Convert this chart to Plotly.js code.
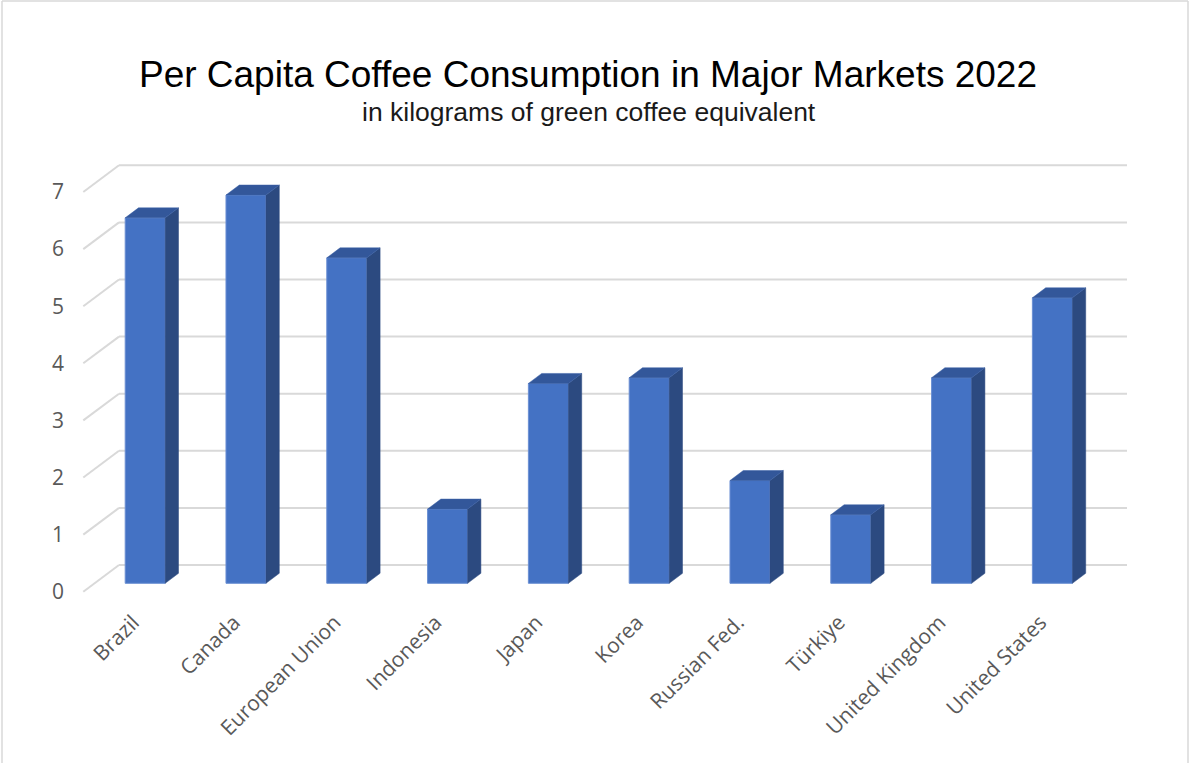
<!DOCTYPE html>
<html>
<head>
<meta charset="utf-8">
<script src="https://cdn.plot.ly/plotly-3.0.1.min.js"></script>
<style>html,body{margin:0;padding:0;background:#fff;}#chart{width:1190px;height:763px;}</style>
</head>
<body>
<div id="chart"></div>
<script>
// ---- data ----
const categories = ['Brazil', 'Canada', 'European Union', 'Indonesia', 'Japan', 'Korea', 'Russian Fed.', 'Türkiye', 'United Kingdom', 'United States'];
const consumption = [6.4, 6.8, 5.7, 1.3, 3.5, 3.6, 1.8, 1.2, 3.6, 5.0];
const yTicks = [0, 1, 2, 3, 4, 5, 6, 7];
const titleText = 'Per Capita Coffee Consumption in Major Markets 2022';
const subtitleText = 'in kilograms of green coffee equivalent';

// ---- geometry (pixels) ----
const W = 1190, H = 763;
const PL = 119, PR = 1127, PT = 150, PB = 600;   // plot area
const PX_PER_CAT = 100.8, FIRST_CAT_PX = 145.2;
const PX_PER_UNIT = 57.1, BASE_PX = 583.3;
const DEPTH_DX_PX = 13.3, DEPTH_DY_PX = 10;      // bar depth (oblique)
const WALL_PX = 565, FLOOR_FRONT_PX = 591.7, FLOOR_FRONT_X = 83.3;
const BAR_W = 0.397;

const plotW = PR - PL, plotH = PB - PT;
const xMin = -(FIRST_CAT_PX - PL) / PX_PER_CAT;
const xMax = xMin + plotW / PX_PER_CAT;
const yMin = -(PB - BASE_PX) / PX_PER_UNIT;
const yMax = yMin + plotH / PX_PER_UNIT;
const DX = DEPTH_DX_PX / PX_PER_CAT;
const DY = DEPTH_DY_PX / PX_PER_UNIT;
const wallOff = (BASE_PX - WALL_PX) / PX_PER_UNIT;
const frontOff = (FLOOR_FRONT_PX - BASE_PX) / PX_PER_UNIT;
const px2paperX = p => (p - PL) / plotW;
const px2paperY = p => (PB - p) / plotH;

const idx = categories.map((c, i) => i);

// side and top faces derived from the data values
const sideX = [], sideY = [], topX = [], topY = [];
idx.forEach(i => {
  const v = consumption[i];
  const xl = i - BAR_W / 2, xr = i + BAR_W / 2;
  sideX.push(xr, xr + DX, xr + DX, xr, xr, null);
  sideY.push(0, DY, v + DY, v, 0, null);
  topX.push(xl, xl + DX, xr + DX, xr, xl, null);
  topY.push(v, v + DY, v + DY, v, v, null);
});

const traces = [
  {
    type: 'bar', x: idx, y: consumption, width: BAR_W,
    marker: {color: '#4472C4', line: {color: '#6a8fd3', width: 1}},
    hovertext: categories, hoverinfo: 'text+y'
  },
  {
    type: 'scatter', mode: 'lines', x: sideX, y: sideY, fill: 'toself',
    fillcolor: '#2C4A80', line: {color: '#2C4A80', width: 0.5}, hoverinfo: 'skip'
  },
  {
    type: 'scatter', mode: 'lines', x: topX, y: topY, fill: 'toself',
    fillcolor: '#33579A', line: {color: '#3a60a6', width: 0.5}, hoverinfo: 'skip'
  }
];

const shapes = [];
yTicks.forEach(t => {
  // back wall gridline
  shapes.push({type: 'line', layer: 'below', xref: 'paper', yref: 'y',
    x0: 0, x1: 1, y0: t + wallOff, y1: t + wallOff,
    line: {color: '#d9d9d9', width: 2}});
  // floor/side diagonal
  shapes.push({type: 'line', layer: 'below', xref: 'paper', yref: 'y',
    x0: px2paperX(FLOOR_FRONT_X), x1: 0, y0: t - frontOff, y1: t + wallOff,
    line: {color: '#d9d9d9', width: 2}});
});
// chart border (top, left, right)
const bl = px2paperX(2), br = px2paperX(1188), bt = px2paperY(1), bb = px2paperY(H + 2);
shapes.push({type: 'line', xref: 'paper', yref: 'paper', x0: bl, x1: br, y0: bt, y1: bt, line: {color: '#d9d9d9', width: 1.5}});
shapes.push({type: 'line', xref: 'paper', yref: 'paper', x0: bl, x1: bl, y0: bt, y1: bb, line: {color: '#d9d9d9', width: 1.5}});
shapes.push({type: 'line', xref: 'paper', yref: 'paper', x0: br, x1: br, y0: bt, y1: bb, line: {color: '#d9d9d9', width: 1.5}});

const layout = {
  width: W, height: H,
  margin: {l: PL, r: W - PR, t: PT, b: H - PB, pad: 0},
  paper_bgcolor: '#ffffff', plot_bgcolor: 'rgba(0,0,0,0)',
  showlegend: false,
  title: {
    text: titleText,
    font: {family: 'Liberation Sans, Arial, sans-serif', size: 37, color: '#000000'},
    x: 588 / W, xanchor: 'center', xref: 'container',
    y: 1 - 61 / H, yanchor: 'top', yref: 'container'
  },
  annotations: [{
    text: subtitleText, showarrow: false,
    xref: 'paper', yref: 'paper', x: px2paperX(589), y: px2paperY(112),
    xanchor: 'center', yanchor: 'middle',
    font: {family: 'Liberation Sans, Arial, sans-serif', size: 26.5, color: '#1a1a1a'}
  }],
  xaxis: {
    type: 'linear', range: [xMin, xMax], tickvals: idx, ticktext: categories,
    tickangle: -45, showgrid: false, zeroline: false, showline: false, ticks: '',
    tickfont: {family: 'Open Sans, sans-serif', size: 21, color: '#595959'},
    ticklabelshift: -12, ticklabelstandoff: 5, fixedrange: true
  },
  yaxis: {
    // value labels sit on the front edge of the floor, slightly below the bar plane
    range: [yMin, yMax], tickvals: yTicks.map(t => t - frontOff), ticktext: yTicks.map(String),
    showgrid: false, zeroline: false, showline: false, ticks: '',
    tickfont: {family: 'Open Sans, sans-serif', size: 21, color: '#595959'},
    ticklabelstandoff: 54, fixedrange: true
  },
  shapes: shapes
};

Plotly.newPlot('chart', traces, layout, {displayModeBar: false, staticPlot: true});
</script>
</body>
</html>
